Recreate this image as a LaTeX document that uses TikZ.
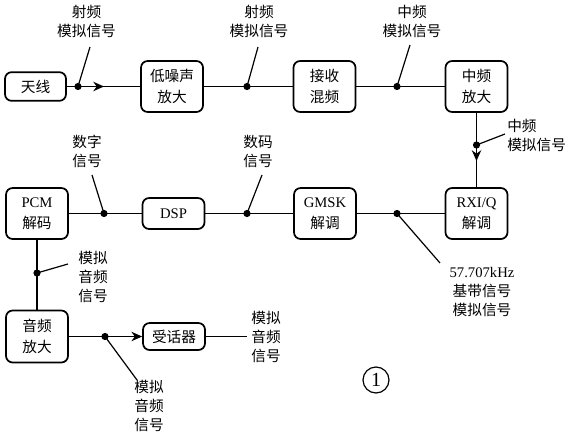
\documentclass[tikz,border=0pt]{standalone}
\usepackage{fontspec}
\setmainfont{Liberation Serif}
\newfontfamily\cjk{Noto Sans CJK SC}
\usetikzlibrary{arrows.meta}
\newcommand\lat[1]{{\rmfamily #1}}
\tikzset{
  blk/.style={draw, rounded corners=5pt, line width=1.3pt, minimum width=46.5pt, minimum height=38.25pt, inner sep=0pt, align=center, font=\fontsize{11}{15.5}\selectfont\cjk},
  lowblk/.style={blk, minimum height=21.5pt},
  wire/.style={line width=1.2pt},
  lead/.style={line width=0.9pt},
  lbl/.style={align=center, inner sep=0pt, font=\fontsize{11}{14.25}\selectfont\cjk},
  tip/.style={-{Stealth[length=8pt,width=7pt,inset=2.5pt]}},
  dotc/.style={fill=black}
}
\begin{document}
\begin{tikzpicture}[x=0.75pt,y=-0.75pt]
\useasboundingbox (0,0) rectangle (567,435);
% boxes
\node[lowblk, minimum width=45.75pt] (ant) at (35.5,86.5) {天线};
\node[blk] (lna) at (172,86.5) {低噪声\\放大};
\node[blk] (mix) at (324.5,86.5) {接收\\混频};
\node[blk] (ifa) at (476.5,86.5) {中频\\放大};
\node[blk] (rxiq) at (476.5,213.5) {\lat{RXI/Q}\\解调};
\node[blk] (gmsk) at (325,213.5) {\lat{GMSK}\\解调};
\node[lowblk, minimum height=23.25pt] (dsp) at (173.5,213.5) {\lat{DSP}};
\node[blk] (pcm) at (37,213.5) {\lat{PCM}\\解码};
\node[blk, minimum height=39pt] (aamp) at (37,336.5) {音频\\放大};
\node[lowblk, minimum height=20.25pt] (rcv) at (174,336.5) {受话器};
% dots
\coordinate (d1) at (78,86.5);
\coordinate (d2) at (247,86.5);
\coordinate (d3) at (397,86.5);
\coordinate (d4) at (476.5,145);
\coordinate (d5) at (397,213.5);
\coordinate (d6) at (247,213.5);
\coordinate (d7) at (104,213.5);
\coordinate (d8) at (37,273);
\coordinate (d9) at (105,336.5);
% connectors
\draw[wire] (ant) -- (lna);
\draw[wire] (lna) -- (mix);
\draw[wire] (mix) -- (ifa);
\draw[wire] (ifa) -- (rxiq);
\draw[wire] (rxiq) -- (gmsk);
\draw[wire] (gmsk) -- (dsp);
\draw[wire] (dsp) -- (pcm);
\draw[wire] (pcm) -- (aamp);
\draw[wire] (aamp) -- (d9);
\coordinate (rend) at (247,336.5);
\draw[wire] (rcv) -- (rend);
% arrows
\coordinate (a1) at (104,86.5);
\coordinate (a2) at (476.5,161);
\draw[wire,tip] (d1) -- (a1);
\draw[wire,tip] (d4) -- (a2);
\draw[wire,tip] (d9) -- (rcv);
% leader ends
\coordinate (e1) at (90,47);
\coordinate (e2) at (258,47);
\coordinate (e3) at (410,45);
\coordinate (e4) at (505,134);
\coordinate (e5) at (440,263);
\coordinate (e6) at (262,175);
\coordinate (e7) at (92,175);
\coordinate (e8) at (68,264);
\coordinate (e9) at (137,380);
\foreach \i in {1,...,9}{
  \draw[lead] (d\i) -- (e\i);
  \fill[dotc] (d\i) circle (3.6);
}
% labels
\node[lbl] (l1) at (86.5,21.5) {射频\\模拟信号};
\node[lbl] (l2) at (259,21.5) {射频\\模拟信号};
\node[lbl] (l3) at (412,21.5) {中频\\模拟信号};
\node[lbl, align=left, anchor=west] (l4) at (507,135.5) {中频\\模拟信号};
\node[lbl] (l5) at (482,292.5) {\lat{57.707kHz}\\基带信号\\模拟信号};
\node[lbl] (l6) at (258,151.5) {数码\\信号};
\node[lbl] (l7) at (87,151.5) {数字\\信号};
\node[lbl] (l8) at (93,277) {模拟\\音频\\信号};
\node[lbl] (l9) at (149,406) {模拟\\音频\\信号};
\node[lbl] (l10) at (266,337) {模拟\\音频\\信号};
\node[draw, circle, line width=0.9pt, minimum size=19.5pt, inner sep=0pt, font=\fontsize{15}{15}\selectfont] (num) at (376,380) {1};
\end{tikzpicture}
\end{document}
